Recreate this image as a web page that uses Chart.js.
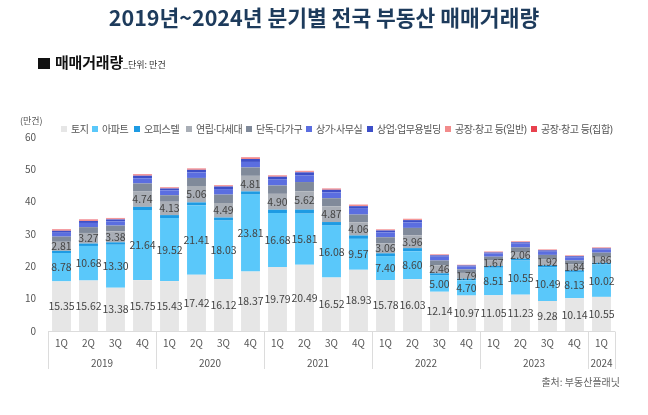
<!DOCTYPE html>
<html><head><meta charset="utf-8">
<script src="https://cdn.jsdelivr.net/npm/chart.js@4/dist/chart.umd.min.js"></script>
<style>
body{margin:0;width:648px;height:415px;background:#fff;overflow:hidden;font-family:"Noto Sans CJK KR","Noto Sans",sans-serif;}
#wrap{position:relative;width:648px;height:415px;}
canvas{position:absolute;left:0;top:0;}
.t{position:absolute;white-space:nowrap;}
.lg{position:absolute;top:122px;height:14px;line-height:14px;font-size:10px;color:#555;white-space:nowrap;letter-spacing:-0.4px;font-family:"Noto Sans","Noto Sans CJK KR",sans-serif;}
.lg i{display:inline-block;width:6px;height:6px;margin-right:4px;vertical-align:1px;}
</style></head><body>
<div id="wrap">
<canvas id="c" width="648" height="415"></canvas>
<div class="t" style="left:0;width:648px;text-align:center;top:5px;line-height:24px;font-size:21.5px;font-weight:700;color:#1d3b5c;">2019년~2024년 분기별 전국 부동산 매매거래량</div>
<div class="t" style="left:38px;top:51px;line-height:20px;">
<span style="display:inline-block;width:12px;height:11px;background:#111;vertical-align:-1px;margin-right:5px;"></span><span style="font-size:15px;font-weight:700;color:#111;letter-spacing:-0.2px;">매매거래량</span><span style="font-size:9px;color:#333;">_단위: 만건</span>
</div>
<div class="t" style="left:20px;top:114px;font-size:9px;color:#555;line-height:14px;">(만건)</div>
<div id="legend"></div>
<div class="t" style="right:28px;top:374px;font-size:10px;color:#666;line-height:16px;">출처: 부동산플래닛</div>
</div>
<script>
const quarters = ['1Q','2Q','3Q','4Q','1Q','2Q','3Q','4Q','1Q','2Q','3Q','4Q','1Q','2Q','3Q','4Q','1Q','2Q','3Q','4Q','1Q'];
const years = ['2019','2020','2021','2022','2023','2024'];
const yearSpans = [4,4,4,4,4,1];
const yTicks = [0,10,20,30,40,50,60];

const seriesNames = ['토지','아파트','오피스텔','연립·다세대','단독·다가구','상가·사무실','상업·업무용빌딩','공장·창고 등(일반)','공장·창고 등(집합)'];
const seriesColors = ['#e6e6e6','#5ac8fa','#1e9be3','#a9aeb6','#808a9a','#5b6ee0','#3d4fc8','#f28b8b','#e8414e'];

const land      = [15.35,15.62,13.38,15.75,15.43,17.42,16.12,18.37,19.79,20.49,16.52,18.93,15.78,16.03,12.14,10.97,11.05,11.23,9.28,10.14,10.55];
const apartment = [8.78,10.68,13.30,21.64,19.52,21.41,18.03,23.81,16.68,15.81,16.08,9.57,7.40,8.60,5.00,4.70,8.51,10.55,10.49,8.13,10.02];
const officetel = [0.65,0.75,0.75,1.0,0.9,0.95,0.95,1.0,1.05,1.25,1.1,1.05,0.85,1.0,0.7,0.5,0.55,0.6,0.55,0.5,0.5];
const rowhouse  = [2.81,3.27,3.38,4.74,4.13,5.06,4.49,4.81,4.90,5.62,4.87,4.06,3.06,3.96,2.46,1.79,1.67,2.06,1.92,1.84,1.86];
const detached  = [1.6,1.8,1.8,2.5,2.0,2.5,2.6,2.6,2.6,2.9,2.5,2.4,1.9,2.3,1.5,1.1,1.2,1.4,1.3,1.2,1.3];
const shop      = [1.2,1.3,1.3,1.6,1.5,1.7,1.7,1.7,1.8,2.0,1.8,1.8,1.5,1.7,1.2,0.9,1.0,1.2,1.0,1.0,1.0];
const commBldg  = [0.6,0.6,0.6,0.8,0.6,0.8,0.8,0.9,0.9,1.0,0.8,0.8,0.6,0.7,0.4,0.3,0.3,0.4,0.4,0.3,0.3];
const factoryG  = [0.3,0.3,0.3,0.35,0.3,0.35,0.35,0.35,0.35,0.35,0.3,0.35,0.25,0.3,0.2,0.15,0.15,0.2,0.15,0.15,0.2];
const factoryC  = [0.15,0.15,0.15,0.15,0.1,0.1,0.1,0.15,0.1,0.1,0.1,0.1,0.1,0.1,0.1,0.05,0.1,0.1,0.1,0.1,0.1];

const seriesData = [land,apartment,officetel,rowhouse,detached,shop,commBldg,factoryG,factoryC];
const labeledSeries = [0,1,3];

// HTML legend
const legendX = [61,92,134,186,246,306,367,445,531];
const lg = document.getElementById('legend');
seriesNames.forEach((n,i)=>{
  const d=document.createElement('div');
  d.className='lg'; d.style.left=legendX[i]+'px';
  d.innerHTML='<i style="background:'+seriesColors[i]+'"></i>'+n;
  lg.appendChild(d);
});

Chart.defaults.font.family='"Noto Sans CJK KR","Noto Sans",sans-serif';

const segLabels = {
  id:'segLabels',
  afterDatasetsDraw(chart){
    const ctx=chart.ctx;
    ctx.save();
    ctx.font='10.5px "Noto Sans CJK KR", "Noto Sans", sans-serif';
    ctx.fillStyle='#444';
    ctx.textAlign='center';
    ctx.textBaseline='middle';
    labeledSeries.forEach(di=>{
      const meta=chart.getDatasetMeta(di);
      meta.data.forEach((bar,i)=>{
        const v=chart.data.datasets[di].data[i];
        ctx.fillText(v.toFixed(2), bar.x, (bar.y+bar.base)/2);
      });
    });
    ctx.restore();
  }
};

const groupAxis = {
  id:'groupAxis',
  afterDraw(chart){
    const ctx=chart.ctx, xs=chart.scales.x, area=chart.chartArea;
    const half=(xs.getPixelForValue(1)-xs.getPixelForValue(0))/2;
    const top=area.bottom+0.5, bot=area.bottom+38;
    ctx.save();
    ctx.strokeStyle='#dcdcdc'; ctx.lineWidth=1;
    ctx.beginPath(); ctx.moveTo(area.left,top); ctx.lineTo(area.right,top); ctx.stroke();
    ctx.font='10px "Noto Sans CJK KR", "Noto Sans", sans-serif';
    ctx.fillStyle='#555'; ctx.textAlign='center'; ctx.textBaseline='middle';
    quarters.forEach((q,i)=>{ ctx.fillText(q, xs.getPixelForValue(i), area.bottom+12); });
    let idx=0;
    const drawV=x=>{ x=Math.round(x)+0.5; ctx.beginPath(); ctx.moveTo(x,top); ctx.lineTo(x,bot); ctx.stroke(); };
    drawV(xs.getPixelForValue(0)-half);
    years.forEach((y,k)=>{
      const s=idx, e=idx+yearSpans[k]-1;
      const cx=(xs.getPixelForValue(s)+xs.getPixelForValue(e))/2;
      ctx.fillText(y, cx, area.bottom+32);
      drawV(xs.getPixelForValue(e)+half);
      idx+=yearSpans[k];
    });
    ctx.restore();
  }
};

new Chart(document.getElementById('c'),{
  type:'bar',
  data:{
    labels:quarters,
    datasets:seriesNames.map((n,i)=>({label:n,data:seriesData[i],backgroundColor:seriesColors[i],borderWidth:0,barPercentage:0.7,categoryPercentage:1.0}))
  },
  options:{
    responsive:false, animation:false, devicePixelRatio:1,
    layout:{padding:{top:137,right:33,left:0,bottom:0}},
    plugins:{legend:{display:false},tooltip:{enabled:false},title:{display:false}},
    scales:{
      x:{stacked:true,grid:{display:false,drawTicks:false},border:{display:false},ticks:{display:false},afterFit(s){s.height=84;}},
      y:{stacked:true,min:0,max:60,grid:{display:false,drawTicks:false},border:{display:false},
         afterBuildTicks(s){s.ticks=yTicks.map(v=>({value:v}));},
         ticks:{padding:12,color:'#555',font:{size:10}},afterFit(s){s.width=48;}}
    }
  },
  plugins:[segLabels,groupAxis]
});
</script>
</body></html>
